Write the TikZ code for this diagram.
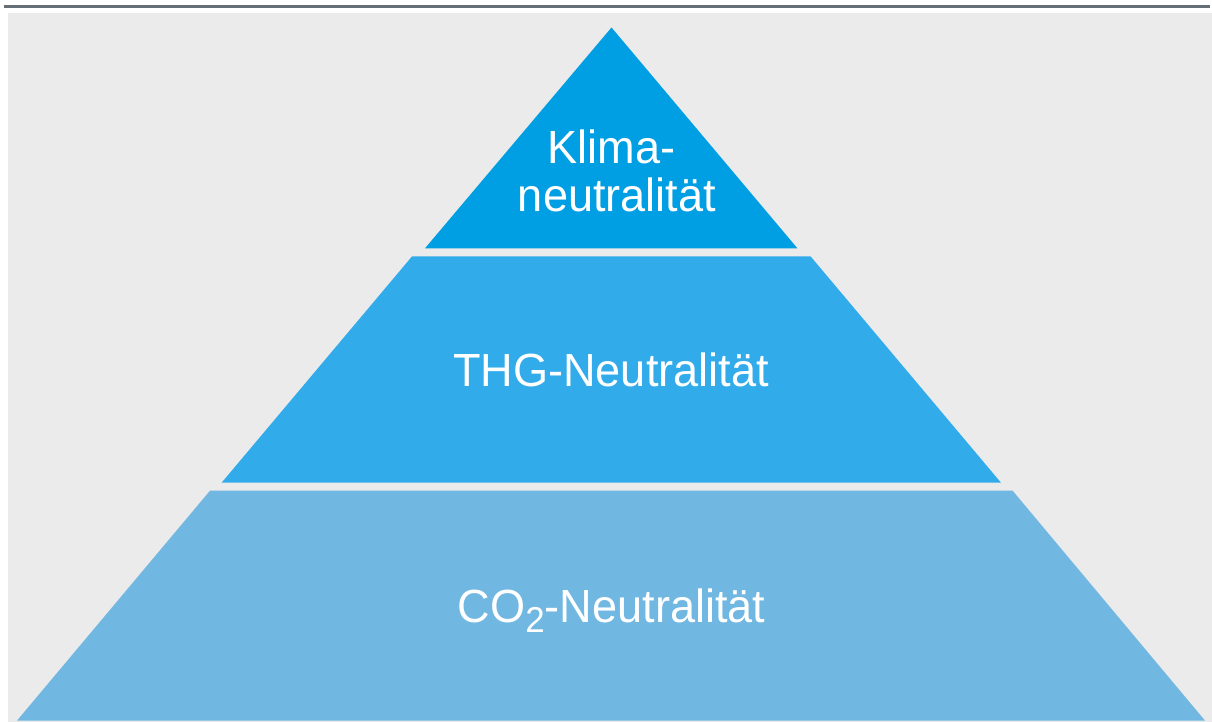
\documentclass[tikz,border=0pt]{standalone}
\usepackage{fontspec}
\setmainfont{Liberation Sans}[FakeStretch=0.97]
\definecolor{bgGray}{RGB}{235,235,235}
\definecolor{ruleGray}{RGB}{101,109,117}
\definecolor{tierTop}{RGB}{0,158,226}
\definecolor{tierMid}{RGB}{50,171,235}
\definecolor{tierBase}{RGB}{112,183,225}
\begin{document}
\begin{tikzpicture}[x=1pt,y=-1pt,
  tierlabel/.style={text=white,inner sep=0pt,anchor=base,font=\fontsize{46.5}{48}\selectfont}]
\useasboundingbox (0,0) rectangle (1212,722);
% backdrop and top rule
\fill[bgGray] (8,12.7) rectangle (1212,722);
\draw[ruleGray,line width=2.2pt] (4,6.5) -- (1210,6.5);

% pyramid tiers
\fill[tierTop]  (611.5,27.5) -- (797.4,248.3) -- (425,248.3) -- cycle;
\fill[tierMid]  (412,256.4) -- (810.6,256.4) -- (1001,482.7) -- (221.6,482.7) -- cycle;
\fill[tierBase] (210,490.7) -- (1012.6,490.7) -- (1205,720.6) -- (17,720.6) -- cycle;

% labels
\node[tierlabel] (klima) at (611.5,164) {Klima-};
\node[tierlabel] (klimaB) at (617,211.7) {neutralität};
\node[tierlabel] (thg) at (611,386.7) {THG-Neutralität};
\node[tierlabel] (co2) at (611.5,622) {CO\raisebox{-10pt}{\fontsize{36}{36}\selectfont 2}-Neutralität};
\end{tikzpicture}
\end{document}
